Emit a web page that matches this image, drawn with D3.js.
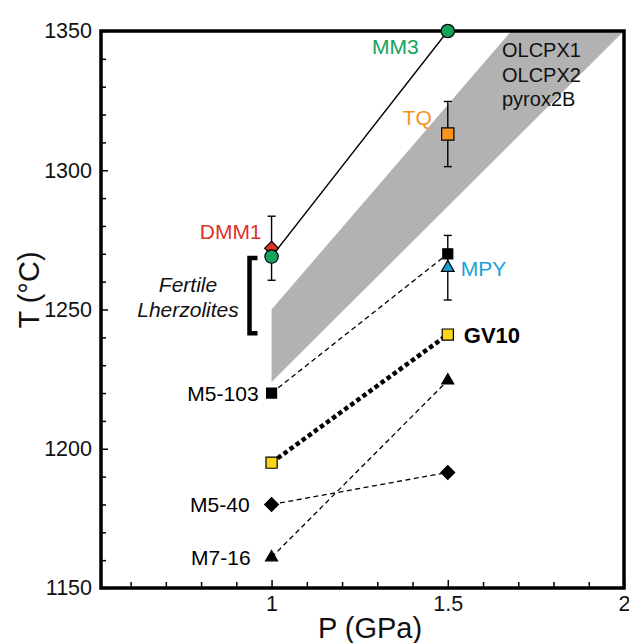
<!DOCTYPE html>
<html>
<head>
<meta charset="utf-8">
<script src="https://cdn.jsdelivr.net/npm/d3@7"></script>
<style>
  body { margin: 0; background: #fff; }
  text { font-family: "Liberation Sans", Arial, sans-serif; }
</style>
</head>
<body>
<div id="chart"></div>
<script>
// pressures (GPa)
const pressures = [1, 1.5];

// dashed/solid pairs of experiments, T (°C) at 1 and 1.5 GPa
const mm3 = [1269, 1350];
const m5_103 = [1220, 1270];
const gv10 = [1195, 1241];
const m5_40 = [1180, 1191.5];
const m7_16 = [1161, 1224.5];

// single points with error bars
const dmm1 = { p: 1, t: 1272, err: 11.5 };
const tq = { p: 1.5, t: 1313, err: 11.7 };
const mpy = { p: 1.5, t: 1265, err: 11.6 };

// shaded band OLCPX1 / OLCPX2 / pyrox2B
const bandLower = [[1, 1224], [2, 1350]];
const bandUpper = [[1, 1250], [1.68, 1350]];

// Fertile lherzolites bracket
const fertileRange = [1241.5, 1268.5];

const xTicks = [1, 1.5, 2];
const xMinor = [0.6, 0.7, 0.8, 0.9, 1.1, 1.2, 1.3, 1.4, 1.6, 1.7, 1.8, 1.9];
const yTicks = [1150, 1200, 1250, 1300, 1350];
const yMinor = d3.range(1160, 1350, 10).filter(v => v % 50 !== 0);

const width = 629, height = 643;

const svg = d3.select("#chart")
    .append("svg")
    .attr("width", width)
    .attr("height", height);

const x = d3.scaleLinear().domain([0.516, 2]).range([101, 624]);
const y = d3.scaleLinear().domain([1150, 1350]).range([588, 31]);

// clip to plot
svg.append("clipPath").attr("id", "clip")
    .append("rect").attr("x", 101).attr("y", 31).attr("width", 523).attr("height", 557);

const plot = svg.append("g").attr("clip-path", "url(#clip)");

// band
const bandPts = [bandLower[0], bandUpper[0], bandUpper[1], bandLower[1]];
plot.append("path")
    .attr("d", d3.line().x(d => x(d[0])).y(d => y(d[1]))(bandPts) + "Z")
    .attr("fill", "#b2b2b2");

// lines
const line = d3.line().x((d, i) => x(pressures[i])).y(d => y(d));

plot.append("path").attr("d", line(mm3))
    .attr("fill", "none").attr("stroke", "#000").attr("stroke-width", 1.4);

[m5_103, m5_40, m7_16].forEach(s => {
    plot.append("path").attr("d", line(s))
        .attr("fill", "none").attr("stroke", "#000")
        .attr("stroke-width", 1.3).attr("stroke-dasharray", "5,3.5");
});

plot.append("path").attr("d", line(gv10))
    .attr("fill", "none").attr("stroke", "#000")
    .attr("stroke-width", 4.5).attr("stroke-dasharray", "4.5,3");

// error bars
[dmm1, tq, mpy].forEach(d => {
    const g = plot.append("g").attr("stroke", "#000").attr("stroke-width", 1.4);
    g.append("line").attr("x1", x(d.p)).attr("x2", x(d.p))
        .attr("y1", y(d.t - d.err)).attr("y2", y(d.t + d.err));
    [d.t - d.err, d.t + d.err].forEach(v => {
        g.append("line").attr("x1", x(d.p) - 4).attr("x2", x(d.p) + 4)
            .attr("y1", y(v)).attr("y2", y(v));
    });
});

// labels
function label(txt, px, py, anchor, color, opts) {
    const t = svg.append("text")
        .attr("x", px).attr("y", py)
        .attr("text-anchor", anchor)
        .attr("fill", color)
        .attr("font-size", (opts && opts.size) || 21)
        .text(txt);
    if (opts && opts.bold) t.attr("font-weight", "bold");
    if (opts && opts.italic) t.attr("font-style", "italic");
    return t;
}

label("MM3", x(1.5) - 29, y(1350) + 23, "end", "#13a35a");
label("TQ", x(1.5) - 16, y(tq.t) - 9, "end", "#f7941d");
label("DMM1", x(1) - 10, y(dmm1.t) - 9, "end", "#e2322b");
label("MPY", x(1.5) + 13, y(mpy.t) + 8, "start", "#1ba1d8");
label("GV10", x(1.5) + 16, y(gv10[1]) + 8, "start", "#000", { bold: true, size: 22 });
label("M5-103", x(1) - 13, y(m5_103[0]) + 8, "end", "#000");
label("M5-40", x(1) - 22, y(m5_40[0]) + 8, "end", "#000");
label("M7-16", x(1) - 21, y(m7_16[0]) + 8, "end", "#000");

["OLCPX1", "OLCPX2", "pyrox2B"].forEach((s, i) => {
    label(s, 502, 57 + i * 24.5, "start", "#111", { size: 20 });
});

label("Fertile", 188, 292, "middle", "#111", { italic: true });
label("Lherzolites", 188, 317, "middle", "#111", { italic: true });

// bracket
const bx = 249.5;
svg.append("path")
    .attr("d", `M${bx + 8},${y(fertileRange[1])}H${bx}V${y(fertileRange[0])}H${bx + 8}`)
    .attr("fill", "none").attr("stroke", "#000").attr("stroke-width", 4.5);

// axes
const axes = svg.append("g").attr("font-size", 21);

axes.append("g")
    .attr("transform", `translate(101,0)`)
    .call(d3.axisLeft(y).tickValues(yMinor).tickSize(-5).tickFormat(""))
    .call(g => g.select(".domain").remove())
    .call(g => g.selectAll("line").attr("stroke-width", 1.5));

axes.append("g")
    .attr("transform", `translate(101,0)`)
    .call(d3.axisLeft(y).tickValues(yTicks).tickSize(-7).tickPadding(9).tickFormat(d3.format("d")))
    .call(g => g.select(".domain").remove())
    .call(g => g.selectAll("line").attr("stroke-width", 1.5))
    .call(g => g.selectAll("text").attr("font-size", 21.5).attr("fill", "#111")
        .attr("font-family", "Liberation Sans, Arial, sans-serif"));

axes.append("g")
    .attr("transform", `translate(0,588)`)
    .call(d3.axisBottom(x).tickValues(xMinor).tickSize(-6).tickFormat(""))
    .call(g => g.select(".domain").remove())
    .call(g => g.selectAll("line").attr("stroke-width", 1.5));

axes.append("g")
    .attr("transform", `translate(0,588)`)
    .call(d3.axisBottom(x).tickValues(xTicks).tickSize(-8).tickPadding(8).tickFormat(d => d))
    .call(g => g.select(".domain").remove())
    .call(g => g.selectAll("line").attr("stroke-width", 1.5))
    .call(g => g.selectAll("text").attr("font-size", 21.5).attr("fill", "#111")
        .attr("font-family", "Liberation Sans, Arial, sans-serif"));

// frame
svg.append("rect")
    .attr("x", 101).attr("y", 31).attr("width", 523).attr("height", 557)
    .attr("fill", "none").attr("stroke", "#000").attr("stroke-width", 3.5);

// markers (drawn over the frame, unclipped)
const marks = svg.append("g");
function marker(p, t, type, size, fill, rot) {
    marks.append("path")
        .attr("d", d3.symbol().type(type).size(size)())
        .attr("transform", `translate(${x(p)},${y(t)}) rotate(${rot || 0})`)
        .attr("fill", fill)
        .attr("stroke", "#000")
        .attr("stroke-width", 1.2);
}

// DMM1 red diamond, then green MM3 circles
marker(dmm1.p, dmm1.t, d3.symbolSquare, 95, "#e2322b", 45);
marker(1, mm3[0], d3.symbolCircle, 140, "#13a35a");
marker(1.5, mm3[1], d3.symbolCircle, 140, "#13a35a");

// TQ
marker(tq.p, tq.t, d3.symbolSquare, 150, "#f7941d");

// MPY triangle and M5-103 squares
marker(mpy.p, mpy.t, d3.symbolTriangle, 70, "#1ba1d8");
marker(1, m5_103[0], d3.symbolSquare, 100, "#000");
marker(1.5, m5_103[1], d3.symbolSquare, 100, "#000");

// GV10
marker(1, gv10[0], d3.symbolSquare, 125, "#f9d61a");
marker(1.5, gv10[1], d3.symbolSquare, 125, "#f9d61a");

// M5-40 diamonds
marker(1, m5_40[0], d3.symbolSquare, 95, "#000", 45);
marker(1.5, m5_40[1], d3.symbolSquare, 95, "#000", 45);

// M7-16 triangles
marker(1, m7_16[0], d3.symbolTriangle, 62, "#000");
marker(1.5, m7_16[1], d3.symbolTriangle, 62, "#000");

// axis titles
svg.append("text")
    .attr("x", 370).attr("y", 638)
    .attr("text-anchor", "middle")
    .attr("font-size", 29)
    .attr("fill", "#111")
    .text("P (GPa)");

svg.append("text")
    .attr("transform", "translate(39,290) rotate(-90)")
    .attr("text-anchor", "middle")
    .attr("font-size", 29)
    .attr("fill", "#111")
    .text("T (°C)");
</script>
</body>
</html>
